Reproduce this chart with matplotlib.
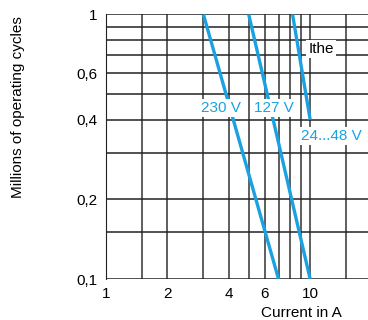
import matplotlib.pyplot as plt
from matplotlib.ticker import FixedLocator, NullLocator

# Endpoints of each life curve: (current A, millions of cycles)
v230_x = [3.0, 7.0]
v230_y = [1.0, 0.1]
v127_x = [5.0, 10.0]
v127_y = [1.0, 0.1]
v24_x = [8.2, 10.0]
v24_y = [1.0, 0.4]

x_ticks = [1, 2, 4, 6, 10]
x_tick_labels = ['1', '2', '4', '6', '10']
y_ticks = [0.1, 0.2, 0.4, 0.6, 1]
y_tick_labels = ['0,1', '0,2', '0,4', '0,6', '1']
x_grid = [1, 1.5, 2, 3, 4, 5, 6, 7, 8, 9, 10, 15]
y_grid = [0.1, 0.15, 0.2, 0.3, 0.4, 0.5, 0.6, 0.7, 0.8, 0.9, 1.0]

plt.rcParams['font.family'] = ['Liberation Sans', 'DejaVu Sans']
blue = '#1ba1e2'

fig = plt.figure(figsize=(3.68, 3.2), dpi=100)
ax = fig.add_axes([0.288, 0.128, 0.712, 0.827])
ax.set_xscale('log')
ax.set_yscale('log')
ax.set_xlim(1, 19.2)
ax.set_ylim(0.1, 1.0)

for gx in x_grid:
    ax.axvline(gx, color='#333333', lw=1.1, zorder=1)
for gy in y_grid:
    ax.axhline(gy, color='#222222', lw=1.1, zorder=1)

ax.plot(v230_x, v230_y, color=blue, lw=2.4, zorder=3, solid_capstyle='butt')
ax.plot(v127_x, v127_y, color=blue, lw=2.4, zorder=3, solid_capstyle='butt')
ax.plot(v24_x, v24_y, color=blue, lw=2.4, zorder=3, solid_capstyle='butt')

box = dict(facecolor='white', edgecolor='none', pad=1.5)
ax.text(3.66, 0.443, '230 V', color=blue, fontsize=11, ha='center', va='center', bbox=box, zorder=4)
ax.text(6.66, 0.443, '127 V', color=blue, fontsize=11, ha='center', va='center', bbox=box, zorder=4)
ax.text(12.77, 0.347, '24...48 V', color=blue, fontsize=11, ha='center', va='center', bbox=box, zorder=4)
ax.text(11.3, 0.74, 'Ithe', color='black', fontsize=11, ha='center', va='center', bbox=box, zorder=4)

ax.xaxis.set_major_locator(FixedLocator(x_ticks))
ax.xaxis.set_minor_locator(NullLocator())
ax.set_xticklabels(x_tick_labels)
ax.yaxis.set_major_locator(FixedLocator(y_ticks))
ax.yaxis.set_minor_locator(NullLocator())
ax.set_yticklabels(y_tick_labels)
ax.tick_params(length=0, labelsize=11, pad=6)

for side in ['top', 'right', 'bottom']:
    ax.spines[side].set_visible(False)
ax.spines['left'].set_color('#222222')

fig.text(0.818, 0.022, 'Current in A', fontsize=11, ha='center', va='center')
fig.text(0.048, 0.665, 'Millions of operating cycles', fontsize=11, rotation=90,
         ha='center', va='center')

fig.savefig('out.png', dpi=100)
